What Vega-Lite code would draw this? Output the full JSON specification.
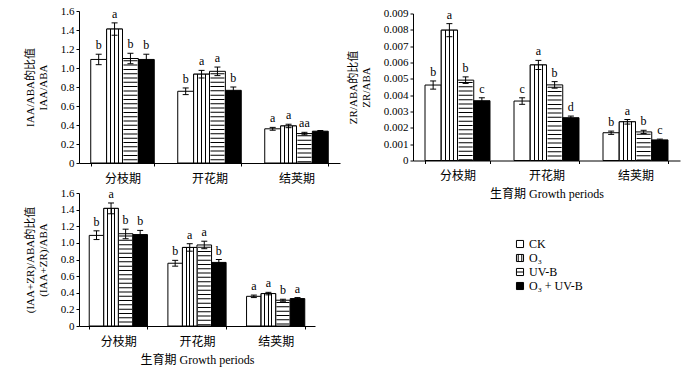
{
  "$schema": "https://vega.github.io/schema/vega-lite/v6.json",
  "autosize": {"type": "pad"},
  "padding": {"left": 24, "top": 5, "right": 5, "bottom": 5},
  "background": "white",
  "datasets": {
    "d": [
      {"p":"IAA","period":"分枝期","t":"CK","v":1.09,"lo":1.035,"hi":1.145,"lab":"b"},
      {"p":"IAA","period":"分枝期","t":"O₃","v":1.41,"lo":1.345,"hi":1.475,"lab":"a"},
      {"p":"IAA","period":"分枝期","t":"UV-B","v":1.10,"lo":1.045,"hi":1.155,"lab":"b"},
      {"p":"IAA","period":"分枝期","t":"O₃ + UV-B","v":1.09,"lo":1.04,"hi":1.145,"lab":"b"},
      {"p":"IAA","period":"开花期","t":"CK","v":0.755,"lo":0.72,"hi":0.79,"lab":"b"},
      {"p":"IAA","period":"开花期","t":"O₃","v":0.935,"lo":0.895,"hi":0.975,"lab":"a"},
      {"p":"IAA","period":"开花期","t":"UV-B","v":0.965,"lo":0.92,"hi":1.01,"lab":"a"},
      {"p":"IAA","period":"开花期","t":"O₃ + UV-B","v":0.765,"lo":0.735,"hi":0.80,"lab":"b"},
      {"p":"IAA","period":"结荚期","t":"CK","v":0.36,"lo":0.345,"hi":0.375,"lab":"a"},
      {"p":"IAA","period":"结荚期","t":"O₃","v":0.39,"lo":0.372,"hi":0.408,"lab":"a"},
      {"p":"IAA","period":"结荚期","t":"UV-B","v":0.31,"lo":0.297,"hi":0.323,"lab":"aa"},
      {"p":"IAA","period":"结荚期","t":"O₃ + UV-B","v":0.335,"lo":0.328,"hi":0.342,"lab":""},
      {"p":"ZR","period":"分枝期","t":"CK","v":0.00462,"lo":0.00437,"hi":0.00487,"lab":"b"},
      {"p":"ZR","period":"分枝期","t":"O₃","v":0.00798,"lo":0.00758,"hi":0.00838,"lab":"a"},
      {"p":"ZR","period":"分枝期","t":"UV-B","v":0.00492,"lo":0.00472,"hi":0.00512,"lab":"b"},
      {"p":"ZR","period":"分枝期","t":"O₃ + UV-B","v":0.00366,"lo":0.00348,"hi":0.00384,"lab":"c"},
      {"p":"ZR","period":"开花期","t":"CK","v":0.00364,"lo":0.00344,"hi":0.00384,"lab":"c"},
      {"p":"ZR","period":"开花期","t":"O₃","v":0.00585,"lo":0.00557,"hi":0.00613,"lab":"a"},
      {"p":"ZR","period":"开花期","t":"UV-B","v":0.00463,"lo":0.00443,"hi":0.00483,"lab":"b"},
      {"p":"ZR","period":"开花期","t":"O₃ + UV-B","v":0.00262,"lo":0.00252,"hi":0.00272,"lab":"d"},
      {"p":"ZR","period":"结荚期","t":"CK","v":0.0017,"lo":0.0016,"hi":0.0018,"lab":"b"},
      {"p":"ZR","period":"结荚期","t":"O₃","v":0.00237,"lo":0.00223,"hi":0.00251,"lab":"a"},
      {"p":"ZR","period":"结荚期","t":"UV-B","v":0.00175,"lo":0.00165,"hi":0.00185,"lab":"b"},
      {"p":"ZR","period":"结荚期","t":"O₃ + UV-B","v":0.00126,"lo":0.00121,"hi":0.00131,"lab":"c"},
      {"p":"SUM","period":"分枝期","t":"CK","v":1.09,"lo":1.04,"hi":1.145,"lab":"b"},
      {"p":"SUM","period":"分枝期","t":"O₃","v":1.415,"lo":1.35,"hi":1.48,"lab":"a"},
      {"p":"SUM","period":"分枝期","t":"UV-B","v":1.11,"lo":1.05,"hi":1.165,"lab":"b"},
      {"p":"SUM","period":"分枝期","t":"O₃ + UV-B","v":1.10,"lo":1.045,"hi":1.15,"lab":"b"},
      {"p":"SUM","period":"开花期","t":"CK","v":0.755,"lo":0.72,"hi":0.79,"lab":"b"},
      {"p":"SUM","period":"开花期","t":"O₃","v":0.945,"lo":0.9,"hi":0.99,"lab":"a"},
      {"p":"SUM","period":"开花期","t":"UV-B","v":0.975,"lo":0.93,"hi":1.02,"lab":"a"},
      {"p":"SUM","period":"开花期","t":"O₃ + UV-B","v":0.765,"lo":0.73,"hi":0.80,"lab":"b"},
      {"p":"SUM","period":"结荚期","t":"CK","v":0.357,"lo":0.342,"hi":0.372,"lab":"a"},
      {"p":"SUM","period":"结荚期","t":"O₃","v":0.39,"lo":0.375,"hi":0.405,"lab":"a"},
      {"p":"SUM","period":"结荚期","t":"UV-B","v":0.31,"lo":0.298,"hi":0.322,"lab":"b"},
      {"p":"SUM","period":"结荚期","t":"O₃ + UV-B","v":0.33,"lo":0.318,"hi":0.342,"lab":"a"}
    ]
  },
  "data": {"name": "d"},
  "columns": 2,
  "bounds": "flush",
  "spacing": {"row": 30, "column": 73},
  "center": {"row": true, "column": false},
  "resolve": {"scale": {"y": "independent", "x": "independent", "xOffset": "independent"}},
  "concat": [
    {
      "width": 261, "height": 152,
      "transform": [{"filter": {"field": "p", "equal": "IAA"}}],
      "encoding": {
        "x": {"field": "period", "type": "nominal", "sort": null, "scale": {"paddingInner": 0.27, "paddingOuter": 0.135}, "axis": {"title": null}},
        "xOffset": {"field": "t", "type": "nominal", "scale": {"domain": ["CK", "O₃", "UV-B", "O₃ + UV-B"], "paddingInner": 0, "paddingOuter": 0}}
      },
      "layer": [
        {
          "mark": {"type": "bar", "stroke": "black", "strokeWidth": 1},
          "encoding": {
            "y": {"field": "v", "type": "quantitative", "scale": {"domain": [0, 1.6], "nice": false}, "axis": {"title": ["IAA/ABA的比值", "IAA/ABA"], "values": [0, 0.2, 0.4, 0.6, 0.8, 1.0, 1.2, 1.4, 1.6], "tickCount": 20, "labelOverlap": false, "labelExpr": "datum.value == 0 ? '0' : format(datum.value, '.1f')"}},
            "fill": {
              "field": "t", "type": "nominal", "title": null,
              "scale": {"domain": ["CK", "O₃", "UV-B", "O₃ + UV-B"], "range": ["white", "white", "white", "black"]},
              "legend": {"orient": "none", "legendX": 435, "legendY": 227, "symbolType": "square", "symbolSize": 50, "symbolStrokeColor": "black", "symbolStrokeWidth": 1, "labelFont": "Liberation Serif", "labelFontSize": 12, "labelColor": "black", "rowPadding": 2, "labelOffset": 3,
                "encode": {"symbols": {"update": {"shape": [{"test": "datum.value === 'O₃'", "value": "M-1,-1H1V1H-1Z M-0.5,-1V1 M0.5,-1V1"}, {"test": "datum.value === 'UV-B'", "value": "M-1,-1H1V1H-1Z M-1,0H1"}, {"value": "square"}]}}}}
            }
          }
        },
        {
          "transform": [{"filter": {"field": "t", "equal": "O₃"}}],
          "mark": {"type": "bar", "stroke": "black", "strokeWidth": 1, "fill": {"gradient": "linear", "x1": 0, "y1": 0, "x2": 1, "y2": 0, "stops": [{"offset": 0, "color": "white"}, {"offset": 0.22, "color": "white"}, {"offset": 0.22, "color": "black"}, {"offset": 0.29, "color": "black"}, {"offset": 0.29, "color": "white"}, {"offset": 0.47, "color": "white"}, {"offset": 0.47, "color": "black"}, {"offset": 0.54, "color": "black"}, {"offset": 0.54, "color": "white"}, {"offset": 0.71, "color": "white"}, {"offset": 0.71, "color": "black"}, {"offset": 0.78, "color": "black"}, {"offset": 0.78, "color": "white"}, {"offset": 1, "color": "white"}]}},
          "encoding": {"y": {"field": "v", "type": "quantitative"}}
        },
        {
          "transform": [{"filter": {"field": "t", "equal": "UV-B"}}],
          "mark": {"type": "rule", "strokeWidth": 14, "strokeDash": [1, 3.3], "strokeDashOffset": 2.5, "color": "black"},
          "encoding": {"y": {"field": "v", "type": "quantitative"}, "y2": {"datum": 0}}
        },
        {"mark": {"type": "rule", "color": "black", "strokeWidth": 1}, "encoding": {"y": {"field": "lo", "type": "quantitative"}, "y2": {"field": "hi"}}},
        {"mark": {"type": "tick", "orient": "horizontal", "size": 6, "thickness": 1, "color": "black", "opacity": 1}, "encoding": {"y": {"field": "lo", "type": "quantitative"}}},
        {"mark": {"type": "tick", "orient": "horizontal", "size": 6, "thickness": 1, "color": "black", "opacity": 1}, "encoding": {"y": {"field": "hi", "type": "quantitative"}}},
        {"mark": {"type": "text", "baseline": "alphabetic", "dy": -5, "font": "Liberation Serif", "fontSize": 12, "color": "black"}, "encoding": {"y": {"field": "hi", "type": "quantitative"}, "text": {"field": "lab"}}}
      ]
    },
    {
      "width": 267, "height": 147,
      "transform": [{"filter": {"field": "p", "equal": "ZR"}}],
      "encoding": {
        "x": {"field": "period", "type": "nominal", "sort": null, "scale": {"paddingInner": 0.27, "paddingOuter": 0.135}, "axis": {"title": "生育期 Growth periods"}},
        "xOffset": {"field": "t", "type": "nominal", "scale": {"domain": ["CK", "O₃", "UV-B", "O₃ + UV-B"], "paddingInner": 0, "paddingOuter": 0}}
      },
      "layer": [
        {
          "mark": {"type": "bar", "stroke": "black", "strokeWidth": 1},
          "encoding": {
            "y": {"field": "v", "type": "quantitative", "scale": {"domain": [0, 0.009], "nice": false}, "axis": {"title": ["ZR/ABA的比值", "ZR/ABA"], "values": [0, 0.001, 0.002, 0.003, 0.004, 0.005, 0.006, 0.007, 0.008, 0.009], "tickCount": 20, "labelOverlap": false, "labelExpr": "datum.value == 0 ? '0' : format(datum.value, '.3f')"}},
            "fill": {
              "field": "t", "type": "nominal", "title": null,
              "scale": {"domain": ["CK", "O₃", "UV-B", "O₃ + UV-B"], "range": ["white", "white", "white", "black"]},
              "legend": {"orient": "none", "legendX": 435, "legendY": 227, "symbolType": "square", "symbolSize": 50, "symbolStrokeColor": "black", "symbolStrokeWidth": 1, "labelFont": "Liberation Serif", "labelFontSize": 12, "labelColor": "black", "rowPadding": 2, "labelOffset": 3,
                "encode": {"symbols": {"update": {"shape": [{"test": "datum.value === 'O₃'", "value": "M-1,-1H1V1H-1Z M-0.5,-1V1 M0.5,-1V1"}, {"test": "datum.value === 'UV-B'", "value": "M-1,-1H1V1H-1Z M-1,0H1"}, {"value": "square"}]}}}}
            }
          }
        },
        {
          "transform": [{"filter": {"field": "t", "equal": "O₃"}}],
          "mark": {"type": "bar", "stroke": "black", "strokeWidth": 1, "fill": {"gradient": "linear", "x1": 0, "y1": 0, "x2": 1, "y2": 0, "stops": [{"offset": 0, "color": "white"}, {"offset": 0.22, "color": "white"}, {"offset": 0.22, "color": "black"}, {"offset": 0.29, "color": "black"}, {"offset": 0.29, "color": "white"}, {"offset": 0.47, "color": "white"}, {"offset": 0.47, "color": "black"}, {"offset": 0.54, "color": "black"}, {"offset": 0.54, "color": "white"}, {"offset": 0.71, "color": "white"}, {"offset": 0.71, "color": "black"}, {"offset": 0.78, "color": "black"}, {"offset": 0.78, "color": "white"}, {"offset": 1, "color": "white"}]}},
          "encoding": {"y": {"field": "v", "type": "quantitative"}}
        },
        {
          "transform": [{"filter": {"field": "t", "equal": "UV-B"}}],
          "mark": {"type": "rule", "strokeWidth": 14, "strokeDash": [1, 3.3], "strokeDashOffset": 2.5, "color": "black"},
          "encoding": {"y": {"field": "v", "type": "quantitative"}, "y2": {"datum": 0}}
        },
        {"mark": {"type": "rule", "color": "black", "strokeWidth": 1}, "encoding": {"y": {"field": "lo", "type": "quantitative"}, "y2": {"field": "hi"}}},
        {"mark": {"type": "tick", "orient": "horizontal", "size": 6, "thickness": 1, "color": "black", "opacity": 1}, "encoding": {"y": {"field": "lo", "type": "quantitative"}}},
        {"mark": {"type": "tick", "orient": "horizontal", "size": 6, "thickness": 1, "color": "black", "opacity": 1}, "encoding": {"y": {"field": "hi", "type": "quantitative"}}},
        {"mark": {"type": "text", "baseline": "alphabetic", "dy": -5, "font": "Liberation Serif", "fontSize": 12, "color": "black"}, "encoding": {"y": {"field": "hi", "type": "quantitative"}, "text": {"field": "lab"}}}
      ]
    },
    {
      "width": 236, "height": 133,
      "transform": [{"filter": {"field": "p", "equal": "SUM"}}],
      "encoding": {
        "x": {"field": "period", "type": "nominal", "sort": null, "scale": {"paddingInner": 0.26, "paddingOuter": 0.13}, "axis": {"title": "生育期 Growth periods"}},
        "xOffset": {"field": "t", "type": "nominal", "scale": {"domain": ["CK", "O₃", "UV-B", "O₃ + UV-B"], "paddingInner": 0, "paddingOuter": 0}}
      },
      "layer": [
        {
          "mark": {"type": "bar", "stroke": "black", "strokeWidth": 1},
          "encoding": {
            "y": {"field": "v", "type": "quantitative", "scale": {"domain": [0, 1.6], "nice": false}, "axis": {"title": ["(IAA+ZR)/ABA的比值", "(IAA+ZR)/ABA"], "values": [0, 0.2, 0.4, 0.6, 0.8, 1.0, 1.2, 1.4, 1.6], "tickCount": 20, "labelOverlap": false, "labelExpr": "datum.value == 0 ? '0' : format(datum.value, '.1f')"}},
            "fill": {
              "field": "t", "type": "nominal", "title": null,
              "scale": {"domain": ["CK", "O₃", "UV-B", "O₃ + UV-B"], "range": ["white", "white", "white", "black"]},
              "legend": {"orient": "none", "legendX": 435, "legendY": 227, "symbolType": "square", "symbolSize": 50, "symbolStrokeColor": "black", "symbolStrokeWidth": 1, "labelFont": "Liberation Serif", "labelFontSize": 12, "labelColor": "black", "rowPadding": 2, "labelOffset": 3,
                "encode": {"symbols": {"update": {"shape": [{"test": "datum.value === 'O₃'", "value": "M-1,-1H1V1H-1Z M-0.5,-1V1 M0.5,-1V1"}, {"test": "datum.value === 'UV-B'", "value": "M-1,-1H1V1H-1Z M-1,0H1"}, {"value": "square"}]}}}}
            }
          }
        },
        {
          "transform": [{"filter": {"field": "t", "equal": "O₃"}}],
          "mark": {"type": "bar", "stroke": "black", "strokeWidth": 1, "fill": {"gradient": "linear", "x1": 0, "y1": 0, "x2": 1, "y2": 0, "stops": [{"offset": 0, "color": "white"}, {"offset": 0.22, "color": "white"}, {"offset": 0.22, "color": "black"}, {"offset": 0.29, "color": "black"}, {"offset": 0.29, "color": "white"}, {"offset": 0.47, "color": "white"}, {"offset": 0.47, "color": "black"}, {"offset": 0.54, "color": "black"}, {"offset": 0.54, "color": "white"}, {"offset": 0.71, "color": "white"}, {"offset": 0.71, "color": "black"}, {"offset": 0.78, "color": "black"}, {"offset": 0.78, "color": "white"}, {"offset": 1, "color": "white"}]}},
          "encoding": {"y": {"field": "v", "type": "quantitative"}}
        },
        {
          "transform": [{"filter": {"field": "t", "equal": "UV-B"}}],
          "mark": {"type": "rule", "strokeWidth": 13, "strokeDash": [1, 3.3], "strokeDashOffset": 2.5, "color": "black"},
          "encoding": {"y": {"field": "v", "type": "quantitative"}, "y2": {"datum": 0}}
        },
        {"mark": {"type": "rule", "color": "black", "strokeWidth": 1}, "encoding": {"y": {"field": "lo", "type": "quantitative"}, "y2": {"field": "hi"}}},
        {"mark": {"type": "tick", "orient": "horizontal", "size": 6, "thickness": 1, "color": "black", "opacity": 1}, "encoding": {"y": {"field": "lo", "type": "quantitative"}}},
        {"mark": {"type": "tick", "orient": "horizontal", "size": 6, "thickness": 1, "color": "black", "opacity": 1}, "encoding": {"y": {"field": "hi", "type": "quantitative"}}},
        {"mark": {"type": "text", "baseline": "alphabetic", "dy": -5, "font": "Liberation Serif", "fontSize": 12, "color": "black"}, "encoding": {"y": {"field": "hi", "type": "quantitative"}, "text": {"field": "lab"}}}
      ]
    }
  ],
  "config": {
    "view": {"stroke": null},
    "axis": {"domainColor": "black", "tickColor": "black", "labelColor": "black", "titleColor": "black", "grid": false, "tickSize": 3, "labelOverlap": false, "labelFont": "Liberation Serif", "labelFontSize": 11, "titleFont": "Liberation Serif, Noto Sans CJK SC", "titleFontSize": 11, "titleFontWeight": "normal"},
    "axisX": {"labelFont": "Noto Sans CJK SC", "labelFontSize": 12, "labelAngle": 0, "tickBand": "extent", "labelPadding": 7, "titleFontSize": 12, "titlePadding": 7},
    "axisY": {"labelPadding": 2, "titlePadding": 12}
  }
}
